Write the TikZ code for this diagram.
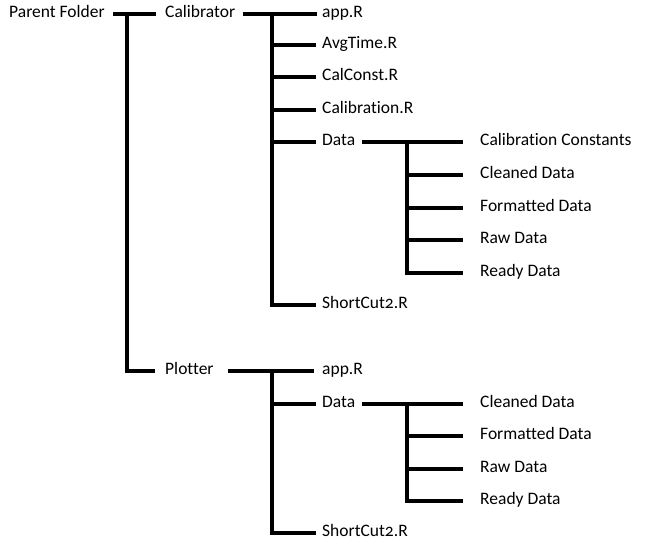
\documentclass[tikz,border=0pt]{standalone}
\usepackage{fontspec}
\setmainfont{Carlito}[Numbers=OldStyle,Ligatures=NoCommon]
\begin{document}
\begin{tikzpicture}[x=1pt,y=-1pt,
  lbl/.style={anchor=west,inner sep=0pt,font=\fontsize{17.5}{21}\selectfont,text height=0.8em,text depth=0.19em},
  tree/.style={line width=3.2pt}]
\useasboundingbox (0,0) rectangle (672,547);
% level 0/1
\node[lbl] (pf) at (9,14) {Parent Folder};
\node[lbl] (cal) at (165,14) {Calibrator};
\node[lbl] (plt) at (165,371) {Plotter};
% Calibrator children
\node[lbl] (c1) at (322,14) {app.R};
\node[lbl] (c2) at (322,45) {AvgTime.R};
\node[lbl] (c3) at (322,77) {CalConst.R};
\node[lbl] (c4) at (322,110) {Calibration.R};
\node[lbl] (c5) at (322,142) {Data};
\node[lbl] (c6) at (322,305) {ShortCut2.R};
% Calibrator Data children
\node[lbl] (d1) at (480,142) {Calibration Constants};
\node[lbl] (d2) at (480,175) {Cleaned Data};
\node[lbl] (d3) at (480,208) {Formatted Data};
\node[lbl] (d4) at (480,240) {Raw Data};
\node[lbl] (d5) at (480,273) {Ready Data};
% Plotter children
\node[lbl] (p1) at (322,371) {app.R};
\node[lbl] (p2) at (322,404) {Data};
\node[lbl] (p3) at (322,533) {ShortCut2.R};
% Plotter Data children
\node[lbl] (e1) at (480,404) {Cleaned Data};
\node[lbl] (e2) at (480,436) {Formatted Data};
\node[lbl] (e3) at (480,469) {Raw Data};
\node[lbl] (e4) at (480,501) {Ready Data};
% junctions
\coordinate (j0) at (127,14);
\coordinate (j1) at (272,14);
\coordinate (j2) at (407,142);
\coordinate (j3) at (272,371);
\coordinate (j4) at (407,404);
% Parent
\draw[tree] ([xshift=8pt]pf.east) -- ([xshift=-9pt]cal.west);
\draw[tree] (j0) |- ([xshift=-10pt]plt.west);
% Calibrator
\draw[tree] ([xshift=8pt]cal.east) -- ([xshift=-5pt]c1.west);
\draw[tree] (j1) |- ([xshift=-6pt]c6.west);
\foreach \n in {c2,c3,c4,c5}{\draw[tree] (j1 |- \n.west) -- ([xshift=-6pt]\n.west);}
% Calibrator Data
\draw[tree] ([xshift=7pt]c5.east) -- ([xshift=-17pt]d1.west);
\draw[tree] (j2) |- ([xshift=-17pt]d5.west);
\foreach \n in {d2,d3,d4}{\draw[tree] (j2 |- \n.west) -- ([xshift=-17pt]\n.west);}
% Plotter
\draw[tree] ([xshift=14pt]plt.east) -- ([xshift=-8pt]p1.west);
\draw[tree] (j3) |- ([xshift=-6pt]p3.west);
\draw[tree] (j3 |- p2.west) -- ([xshift=-6pt]p2.west);
% Plotter Data
\draw[tree] ([xshift=7pt]p2.east) -- ([xshift=-17pt]e1.west);
\draw[tree] (j4) |- ([xshift=-17pt]e4.west);
\foreach \n in {e2,e3}{\draw[tree] (j4 |- \n.west) -- ([xshift=-17pt]\n.west);}
\end{tikzpicture}
\end{document}
